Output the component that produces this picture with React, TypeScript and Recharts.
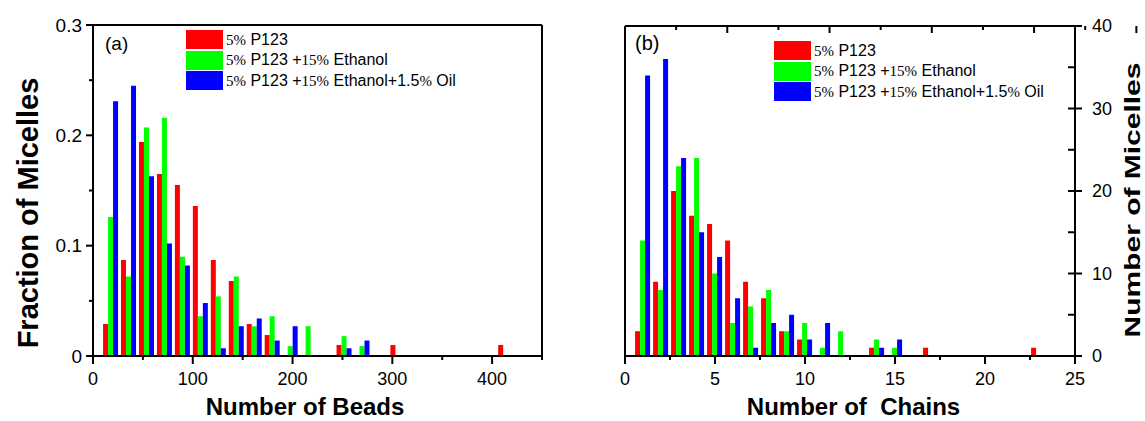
import { BarChart, Bar, XAxis, YAxis, Legend, Label } from 'recharts';

// bin centres: beads (panel a) and chains (panel b)
const beadBins = [18, 36, 54, 72, 90, 108, 126, 144, 162, 180, 198, 216, 234, 252, 270, 288, 306, 324, 342, 360, 378, 396, 414];
const chainBins = [1, 2, 3, 4, 5, 6, 7, 8, 9, 10, 11, 12, 13, 14, 15, 16, 17, 18, 19, 20, 21, 22, 23];

// panel (a): fraction of micelles
const p123Fraction = [0.029, 0.087, 0.194, 0.165, 0.155, 0.136, 0.087, 0.068, 0.029, 0.019, 0, 0, 0, 0.01, 0, 0, 0.01, 0, 0, 0, 0, 0, 0.01];
const ethanolFraction = [0.126, 0.072, 0.207, 0.216, 0.09, 0.036, 0.054, 0.072, 0.027, 0.036, 0.009, 0.027, 0, 0.018, 0.009, 0, 0, 0, 0, 0, 0, 0, 0];
const oilFraction = [0.231, 0.245, 0.163, 0.102, 0.082, 0.048, 0.007, 0.027, 0.034, 0.014, 0.027, 0, 0, 0.007, 0.014, 0, 0, 0, 0, 0, 0, 0, 0];

// panel (b): number of micelles
const p123Counts = [3, 9, 20, 17, 16, 14, 9, 7, 3, 2, 0, 0, 0, 1, 0, 0, 1, 0, 0, 0, 0, 0, 1];
const ethanolCounts = [14, 8, 23, 24, 10, 4, 6, 8, 3, 4, 1, 3, 0, 2, 1, 0, 0, 0, 0, 0, 0, 0, 0];
const oilCounts = [34, 36, 24, 15, 12, 7, 1, 4, 5, 2, 4, 0, 0, 1, 2, 0, 0, 0, 0, 0, 0, 0, 0];

const seriesKeys = ['p123', 'ethanol', 'oil'];
const seriesNames = ['5% P123', '5% P123 +15% Ethanol', '5% P123 +15% Ethanol+1.5% Oil'];
const seriesColors = ['#ff0000', '#00ff00', '#0000ff'];

const beadTicks = [0, 50, 100, 150, 200, 250, 300, 350, 400, 450];
const fractionTicks = [0, 0.05, 0.1, 0.15, 0.2, 0.25, 0.3];
const chainTicks = [0, 2.5, 5, 7.5, 10, 12.5, 15, 17.5, 20, 22.5, 25];
const countTicks = [0, 5, 10, 15, 20, 25, 30, 35, 40];

const beadData = beadBins.map((bin, i) => ({ bin, p123: p123Fraction[i], ethanol: ethanolFraction[i], oil: oilFraction[i] }));
const chainData = chainBins.map((bin, i) => ({ bin, p123: p123Counts[i], ethanol: ethanolCounts[i], oil: oilCounts[i] }));

const SANS = '"Liberation Sans", Arial, sans-serif';
const SERIF = '"Liberation Serif", "Times New Roman", serif';
const B_LEFT = 580;

type Side = 'left' | 'right' | 'bottom' | 'top';

interface TickStyle {
  side: Side;
  inward: boolean;
  majorEvery: number;
  majorLen: number;
  minorLen: number;
  cross?: boolean;
  labels?: boolean;
  fontSize?: number;
  gap?: number;
}

const makeTick = (s: TickStyle) => (props: any) => {
  const { x, y, payload } = props;
  const v = Number(payload.value);
  const r = v / s.majorEvery;
  const major = Math.abs(r - Math.round(r)) < 1e-6;
  const len = major ? s.majorLen : s.minorLen;
  const horiz = s.side === 'left' || s.side === 'right';
  const out = s.side === 'left' || s.side === 'top' ? -1 : 1;
  const dir = s.inward ? -out : out;
  const a = major && s.cross ? -len * dir : 0;
  const b = len * dir;
  const outLen = s.inward ? (major && s.cross ? len : 0) : len;
  const gap = s.gap ?? 4;
  let text = null;
  if (s.labels && major) {
    const common = { fontFamily: SANS, fontSize: s.fontSize ?? 18, fill: '#000' };
    if (s.side === 'left') {
      text = <text x={x - outLen - gap} y={y} dy="0.35em" textAnchor="end" {...common}>{String(v)}</text>;
    } else if (s.side === 'right') {
      text = <text x={x + outLen + gap} y={y} dy="0.35em" textAnchor="start" {...common}>{String(v)}</text>;
    } else {
      text = <text x={x} y={y + outLen + gap} dy="0.71em" textAnchor="middle" {...common}>{String(v)}</text>;
    }
  }
  return (
    <g>
      {horiz
        ? <line x1={x + a} y1={y} x2={x + b} y2={y} stroke="#000" strokeWidth={2} />
        : <line x1={x} y1={y + a} x2={x} y2={y + b} stroke="#000" strokeWidth={2} />}
      {text}
    </g>
  );
};

const splitName = (name: string) =>
  name.split(/((?<![\d.])\d+%|%)/).filter((p) => p !== '').map((part, j) =>
    /%$/.test(part)
      ? <span key={j} style={{ fontFamily: SERIF, fontSize: 15 }}>{part}</span>
      : <span key={j}>{part}</span>
  );

const LegendBox = () => (
  <div>
    {seriesNames.map((name, i) => (
      <div key={name} style={{ display: 'flex', alignItems: 'center', height: 19, marginBottom: 1.5 }}>
        <span style={{ width: 37, height: 19, background: seriesColors[i], display: 'inline-block' }} />
        <span style={{ marginLeft: 3, fontFamily: SANS, fontSize: 16, color: '#000', whiteSpace: 'pre' }}>
          {splitName(name)}
        </span>
      </div>
    ))}
  </div>
);

const axisLine = { stroke: '#000', strokeWidth: 2 };

const App = () => {
  return (
    <div style={{ position: 'absolute', left: 0, top: 0, width: 1145, height: 421, background: '#fff', overflow: 'hidden' }}>
      <div style={{ position: 'absolute', left: 0, top: 0 }}>
        <BarChart width={560} height={421} data={beadData} margin={{ top: 24, right: 17, left: 0, bottom: 0 }}
          barCategoryGap="6%" barGap={0}>
          <XAxis xAxisId="main" dataKey="bin" type="number" domain={[0, 450]} ticks={beadTicks} interval={0}
            height={65} tickSize={0} tickMargin={0} tickLine={false} axisLine={axisLine}
            tick={makeTick({ side: 'bottom', inward: false, majorEvery: 100, majorLen: 8, minorLen: 4, labels: true, gap: 8, fontSize: 18 })}>
            <Label content={() => (
              <text x={305} y={415} textAnchor="middle" fontFamily={SANS} fontSize={24} fontWeight="bold" fill="#000">Number of Beads</text>
            )} />
          </XAxis>
          <XAxis xAxisId="top" orientation="top" type="number" domain={[0, 450]} height={1} tick={false} tickLine={false} axisLine={axisLine} />
          <YAxis yAxisId="main" type="number" domain={[0, 0.3]} ticks={fractionTicks} interval={0} width={93}
            tickSize={0} tickMargin={0} tickLine={false} axisLine={axisLine}
            tick={makeTick({ side: 'left', inward: false, majorEvery: 0.1, majorLen: 7, minorLen: 4, labels: true, gap: 4, fontSize: 19 })}>
            <Label content={() => (
              <g>
                <text x={38} y={213} transform="rotate(-90 38 213)" textAnchor="middle" fontFamily={SANS} fontSize={29} fontWeight="bold" fill="#000">Fraction of Micelles</text>
                <text x={105} y={50} fontFamily={SANS} fontSize={19} fill="#000">(a)</text>
              </g>
            )} />
          </YAxis>
          <YAxis yAxisId="frame" orientation="right" type="number" domain={[0, 0.3]} ticks={fractionTicks} interval={0} width={1}
            tickSize={0} tickMargin={0} tickLine={false} axisLine={axisLine}
            tick={makeTick({ side: 'right', inward: true, majorEvery: 0.1, majorLen: 5, minorLen: 5 })} />
          <Legend content={LegendBox} layout="vertical" align="center" verticalAlign="middle"
            wrapperStyle={{ left: 186, top: 30, width: 320 }} />
          {seriesKeys.map((k, i) => (
            <Bar key={k} dataKey={k} name={seriesNames[i]} xAxisId="main" yAxisId="main" fill={seriesColors[i]} isAnimationActive={false} />
          ))}
        </BarChart>
      </div>

      <div style={{ position: 'absolute', left: B_LEFT, top: 0 }}>
        <BarChart width={565} height={421} data={chainData} margin={{ top: 25, right: 0, left: 0, bottom: 0 }}
          barCategoryGap="6%" barGap={0}>
          <XAxis xAxisId="main" dataKey="bin" type="number" domain={[0, 25]} ticks={chainTicks} interval={0}
            height={65} tickSize={0} tickMargin={0} tickLine={false} axisLine={axisLine}
            tick={makeTick({ side: 'bottom', inward: false, majorEvery: 5, majorLen: 8, minorLen: 4, labels: true, gap: 8, fontSize: 18 })}>
            <Label content={() => (
              <text x={853.5 - B_LEFT} y={415} textAnchor="middle" fontFamily={SANS} fontSize={24} fontWeight="bold" fill="#000" style={{ whiteSpace: 'pre' }}>Number of  Chains</text>
            )} />
          </XAxis>
          <XAxis xAxisId="top" orientation="top" type="number" domain={[0, 25]} ticks={chainTicks} interval={0} height={1}
            tickSize={0} tickMargin={0} tickLine={false} axisLine={axisLine}
            tick={makeTick({ side: 'top', inward: true, majorEvery: 5, majorLen: 7, minorLen: 4 })} />
          <YAxis yAxisId="left" type="number" domain={[0, 40]} ticks={countTicks} interval={0} width={45}
            tickSize={0} tickMargin={0} tickLine={false} axisLine={axisLine}
            tick={makeTick({ side: 'left', inward: true, majorEvery: 10, majorLen: 7, minorLen: 7 })}>
            <Label content={() => (
              <text x={635 - B_LEFT} y={50} fontFamily={SANS} fontSize={20} fill="#000">(b)</text>
            )} />
          </YAxis>
          <YAxis yAxisId="main" orientation="right" type="number" domain={[0, 40]} ticks={countTicks} interval={0} width={70}
            tickSize={0} tickMargin={0} tickLine={false} axisLine={axisLine}
            tick={makeTick({ side: 'right', inward: true, cross: true, majorEvery: 10, majorLen: 7, minorLen: 7, labels: true, gap: 10, fontSize: 18 })} />
          <Legend content={LegendBox} layout="vertical" align="center" verticalAlign="middle"
            wrapperStyle={{ left: 774 - B_LEFT, top: 41, width: 320 }} />
          {seriesKeys.map((k, i) => (
            <Bar key={k} dataKey={k} name={seriesNames[i]} xAxisId="main" yAxisId="main" fill={seriesColors[i]} isAnimationActive={false} />
          ))}
        </BarChart>
      </div>

      <svg width={30} height={421} style={{ position: 'absolute', left: 1115, top: 0 }}>
        <text transform="translate(25 200) rotate(-90) scale(1 0.74)" x={0} y={0} textAnchor="middle"
          fontFamily={SANS} fontSize={30} fontWeight="bold" fill="#000">Number of Micelles</text>
      </svg>
    </div>
  );
};

export default App;
